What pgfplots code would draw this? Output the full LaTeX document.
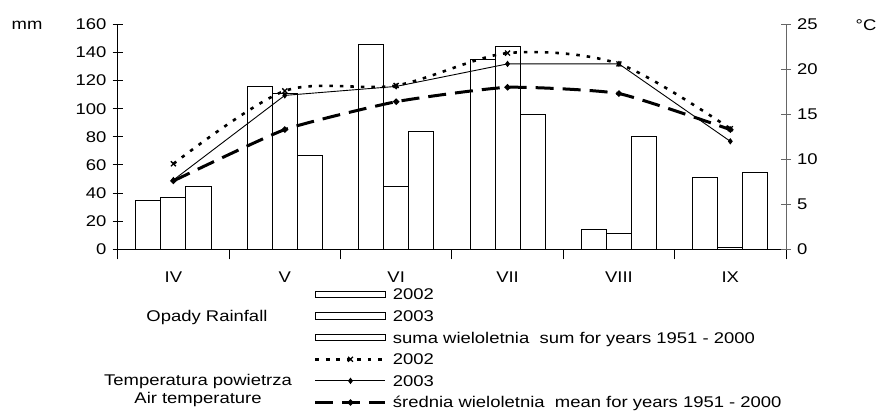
\documentclass[border=0pt]{standalone}
\usepackage{fontspec}
\setmainfont{Liberation Sans}
\usepackage{graphicx}
\usepackage{pgfplots}
\pgfplotsset{compat=1.18}
\newcommand\W[1]{\scalebox{1.19}[1]{#1}}
\pgfplotsset{
  common/.style={
    scale only axis, width=668.3pt, height=225pt,
    at={(117.7pt,168.7pt)}, anchor=south west,
    xmin=0, xmax=6,
    tick align=center, major tick length=10pt,
    /pgf/number format/assume math mode=true,
    font=\fontsize{15.5}{18.3}\selectfont,
    axis line style={-, line width=0.9pt},
    every tick/.style={line width=0.9pt},
    clip=false,
  },
  lineleg/.style={legend image code/.code={\draw[mark repeat=2,mark phase=2,##1] plot coordinates {(0pt,0pt)(35pt,0pt)(70pt,0pt)};}},
  barleg/.style={legend image code/.code={\draw[black,line width=0.8pt,fill=white] (0pt,-3.2pt) rectangle (70pt,3.2pt);}},
}
\begin{document}
\fontsize{15.5}{18.3}\selectfont
\begin{tikzpicture}
\useasboundingbox (0,0) rectangle (878pt,418pt);
% rainfall (mm)
\begin{axis}[common,
  axis x line*=bottom, axis y line*=left,
  ymin=0, ymax=160, ytick={0,20,...,160},
  yticklabel={\W{\pgfmathprintnumber{\tick}}},
  yticklabel style={inner sep=0pt, anchor=east, xshift=-6pt},
  xtick={0,...,6},
  xticklabels={\W{IV},\W{V},\W{VI},\W{VII},\W{VIII},\W{IX}},
  x tick label as interval,
  xticklabel style={inner sep=0pt, anchor=north, yshift=-12pt},
  ybar, bar width=0.225,
]
\addplot[ybar, bar shift=-0.225, fill=white, draw=black, line width=0.9pt]
  coordinates {(0.5,35) (1.5,116) (2.5,146) (3.5,135) (4.5,14) (5.5,51)};
\addplot[ybar, bar shift=0, fill=white, draw=black, line width=0.9pt]
  coordinates {(0.5,37) (1.5,111) (2.5,45) (3.5,144) (4.5,11) (5.5,1)};
\addplot[ybar, bar shift=0.225, fill=white, draw=black, line width=0.9pt]
  coordinates {(0.5,45) (1.5,67) (2.5,84) (3.5,96) (4.5,80) (5.5,55)};
\node at (axis description cs:-0.1357,0.9969) {\W{mm}};
\node at (axis description cs:0.1336,-0.303) {\W{Opady Rainfall}};
\node[align=center, font=\fontsize{15.5}{18.3}\selectfont] at (axis description cs:0.1202,-0.627) {\W{Temperatura powietrza}\\\W{Air temperature}};
\end{axis}
% temperature (C)
\begin{axis}[common,
  axis x line=none, axis y line*=right,
  ymin=0, ymax=25, ytick={0,5,...,25},
  y axis line style={black!60}, ytick style={black!60},
  yticklabel={\W{\pgfmathprintnumber{\tick}}},
  yticklabel style={inner sep=0pt, anchor=west, xshift=6pt},
  legend style={at={(axis description cs:0.2937,-0.1764)}, anchor=north west,
    draw=none, fill=none, inner sep=0pt, outer sep=0pt, row sep=10.6pt,
    nodes={inner sep=0pt, text height=11pt, text depth=0pt},
    font=\fontsize{15.5}{18.3}\selectfont},
  legend cell align=left,
  /tikz/every odd column/.append style={column sep=6pt},
]
\addlegendimage{barleg}
\addlegendentry{\W{2002}}
\addlegendimage{barleg}
\addlegendentry{\W{2003}}
\addlegendimage{barleg}
\addlegendentry{\W{suma wieloletnia\ \ sum for years 1951 - 2000}}
\addplot[lineleg, black, line width=2.6pt, dash pattern=on 3.5pt off 7pt, smooth,
  mark=x, mark size=3.5pt, mark options={solid, line width=1.3pt}]
  coordinates {(0.5,9.5) (1.5,17.6) (2.5,18.2) (3.5,21.8) (4.5,20.6) (5.5,13.4)};
\addlegendentry{\W{2002}}
\addplot[lineleg, black, line width=0.9pt, mark=diamond*, mark size=2.5pt, mark options={solid}]
  coordinates {(0.5,7.7) (1.5,17.1) (2.5,18.1) (3.5,20.6) (4.5,20.6) (5.5,12.0)};
\addlegendentry{\W{2003}}
\addplot[lineleg, black, line width=3pt, dash pattern=on 18pt off 9pt, smooth, tension=0.3,
  mark=*, mark size=1.3pt, mark options={solid}]
  coordinates {(0.5,7.6) (1.5,13.3) (2.5,16.4) (3.5,18.0) (4.5,17.3) (5.5,13.3)};
\addlegendentry{\W{średnia wieloletnia\ \ mean for years 1951 - 2000}}
\node at (axis description cs:1.1197,0.9969) {\W{°C}};
\end{axis}
\end{tikzpicture}
\end{document}
